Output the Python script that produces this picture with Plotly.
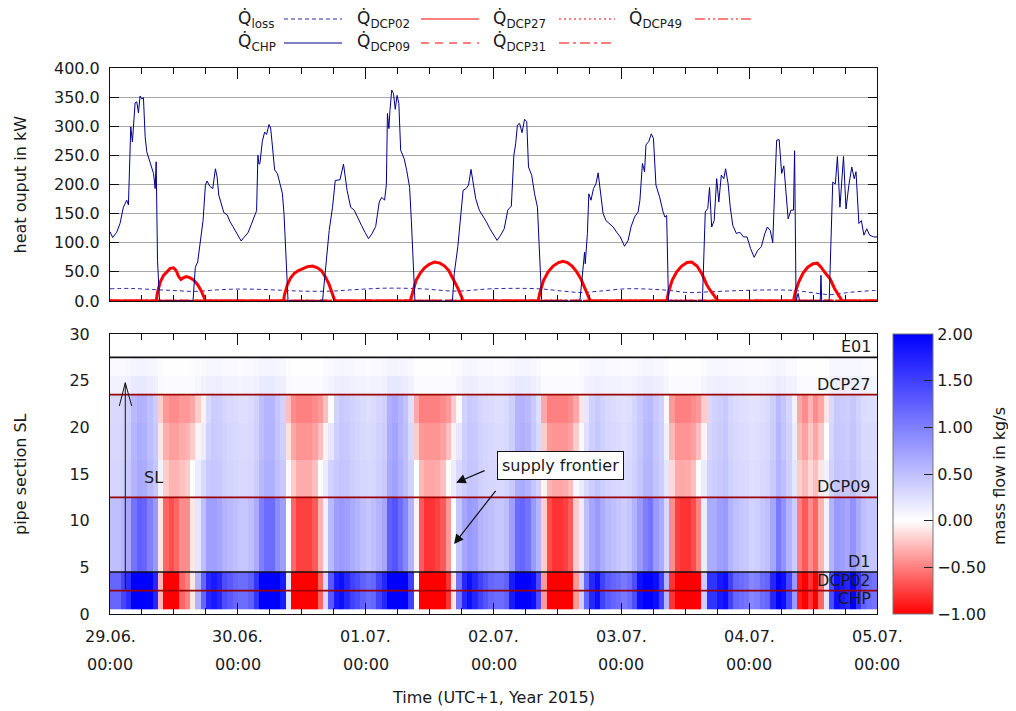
import numpy as np
import plotly.graph_objects as go

FONT = "DejaVu Sans"
TXT = "#1a1a1a"

# ---------------- top panel data (time in hours since 29.06.2015 00:00) -------------
chp_time = [0, 0.5, 1.26, 1.88, 2.51, 3.14, 3.46, 3.90, 4.21, 4.71, 5.03, 5.34, 5.65, 5.97, 6.28, 6.60,
            6.91, 7.23, 7.67, 8.17, 8.48, 8.67, 8.92, 9.30, 15.58, 16.02, 16.46, 16.96, 17.47, 17.91,
            18.22, 18.72, 19.29, 19.79, 20.11, 20.42, 20.86, 21.36, 21.99, 22.49, 23.06, 23.88, 24.63,
            25.13, 25.89, 26.51, 27.14, 27.52, 27.77, 27.96, 28.15, 28.59, 29.03, 29.40, 29.85, 30.16,
            30.47, 30.91, 31.42, 31.92, 32.36, 32.67, 33.05, 33.43, 39.90, 40.53, 41.15, 41.78, 42.29,
            43.17, 43.84, 44.51, 45.18, 45.85, 46.53, 47.20, 47.87, 48.54, 49.21, 49.88, 50.55, 51.02,
            51.55, 51.89, 52.09, 52.36, 52.56, 52.89, 53.23, 53.56, 53.90, 54.23, 54.57, 55.24, 55.71,
            56.25, 56.58, 56.92, 57.25, 64.29, 64.63, 65.30, 65.77, 66.30, 66.84, 67.31, 67.78, 68.18,
            68.65, 69.32, 69.99, 70.66, 71.33, 72.00, 72.67, 73.34, 74.01, 74.68, 75.35, 75.82, 76.16,
            76.49, 76.89, 77.36, 77.83, 78.24, 78.57, 79.17, 79.71, 80.25, 80.72, 81.05, 88.22, 88.56,
            89.10, 89.23, 89.63, 89.90, 90.30, 90.77, 91.24, 91.64, 92.11, 92.58, 93.12, 93.79, 94.46,
            95.13, 95.80, 96.60, 97.27, 97.81, 98.48, 99.15, 99.49, 99.96, 100.36, 100.63, 101.16,
            101.63, 102.03, 102.50, 103.17, 103.84, 104.18, 104.51, 104.85, 111.22, 111.76, 112.23,
            112.56, 112.96, 113.43, 113.90, 114.30, 114.77, 115.24, 115.58, 116.05, 116.45, 116.92,
            117.59, 118.26, 118.93, 119.60, 120.27, 120.94, 121.61, 122.28, 122.95, 123.42, 123.96,
            124.43, 124.76, 125.16, 125.63, 126.10, 126.51, 126.98, 127.32, 127.85, 128.32, 128.53,
            128.80, 129.20, 129.47, 133.34, 133.48, 133.62, 135.02, 135.69, 136.18, 136.57, 137.04,
            137.71, 138.18, 138.72, 139.26, 139.73, 140.06, 140.60, 141.07, 141.54, 142.07, 142.61,
            143.4, 144]
chp_kw = [119, 109, 118, 133, 161, 173, 165, 299, 273, 340, 342, 323, 352, 347, 349, 282,
          256, 247, 236, 219, 193, 239, 70, 0, 0, 58, 67, 104, 138, 199,
          206, 197, 193, 227, 213, 182, 168, 152, 148, 137, 128, 114, 103,
          109, 117, 131, 146, 155, 250, 235, 236, 274, 290, 286, 303, 297,
          268, 225, 219, 199, 185, 150, 70, 0, 0, 58, 121, 161, 207,
          208, 235, 190, 161, 156, 142, 130, 118, 107, 116, 128, 170, 178,
          173, 200, 322, 296, 327, 362, 356, 329, 353, 339, 259, 244, 224,
          195, 138, 69, 0, 0, 47, 93, 144, 190, 193, 199, 226, 205,
          176, 156, 147, 136, 124, 113, 104, 113, 124, 156, 163, 250, 270,
          302, 305, 289, 312, 308, 230, 216, 184, 161, 69, 0, 0, 36,
          84, 64, 116, 184, 173, 193, 201, 220, 184, 150, 138, 133, 127,
          118, 110, 94, 104, 127, 144, 153, 173, 236, 222, 268, 274,
          287, 279, 199, 179, 153, 144, 147, 0, 0, 153, 159,
          195, 127, 138, 210, 170, 216, 210, 227, 201, 161, 130,
          116, 118, 110, 110, 90, 75, 87, 93, 116, 127, 121,
          100, 184, 276, 277, 219, 232, 184, 141, 156, 156, 258,
          0, 13, 0, 0, 44, 0, 0, 204, 201, 248, 161,
          248, 158, 199, 230, 210, 222, 133, 138, 113, 124, 113,
          110, 110]
assert len(chp_time) == len(chp_kw)

loss_time = [0, 4, 8.5, 12, 16, 20, 24, 28, 32, 36, 41.5, 46, 51.6, 58.3, 65, 71.7, 80.4, 85, 88.4,
             92, 97.1, 102, 105.2, 108.5, 113, 118.6, 124, 128.7, 132, 135.4, 139, 143.4, 144]
loss_kw = [21, 21.5, 19.5, 18, 16.5, 19, 20.5, 20, 18.5, 17, 17, 19.5, 22, 21, 17, 21, 21, 17, 14.5,
           17, 21, 20, 18, 14.5, 16, 18, 19, 18, 14, 11, 15, 18, 18]

dcp02_time = [0, 8.67, 8.92, 9.42, 10.05, 10.68, 11.31, 11.94, 12.44, 12.88, 13.32, 13.82, 14.33, 14.95,
              15.71, 16.46, 17.15, 17.72, 17.97, 32.55, 32.8, 33.3, 33.93, 34.56, 35.31, 36.13, 37.07,
              38.01, 38.96, 39.71, 40.53, 41.15, 41.78, 42.22, 56.38, 56.78, 57.45, 58.26, 59.06, 59.93,
              60.94, 61.94, 62.82, 63.62, 64.42, 65.30, 65.97, 66.30, 80.38, 80.72, 81.39, 82.26, 83.20,
              84.20, 85.07, 85.88, 86.75, 87.62, 88.42, 89.23, 89.90, 90.17, 104.51, 104.85, 105.52,
              106.39, 107.33, 108.34, 109.21, 110.21, 111.22, 112.03, 112.70, 113.37, 113.90, 114.17,
              128.32, 128.65, 129.32, 130.12, 131.0, 132.0, 132.8, 133.5, 134.3, 135.2, 136.0, 136.8,
              137.46, 144]
dcp02_kw = [0, 0, 15, 32, 44, 51, 56, 57, 52, 42, 37, 40, 42, 40,
            36, 28, 17, 5, 0, 0, 12, 28, 40, 47, 52, 55, 59,
            60, 57, 52, 40, 28, 12, 0, 0, 15, 35, 48, 57, 63,
            67, 65, 60, 52, 38, 22, 8, 0, 0, 15, 35, 50, 60,
            66, 68, 66, 60, 50, 38, 20, 5, 0, 0, 15, 35,
            50, 60, 66, 67, 60, 45, 28, 18, 10, 3, 0,
            0, 15, 33, 48, 58, 64, 65, 58, 48, 38, 22, 10,
            0, 0]
assert len(dcp02_time) == len(dcp02_kw)

zero_time = [0, 144]
dcp09_kw = [0, 0]
dcp27_kw = [0, 0]
dcp31_kw = [0, 0]
dcp49_kw = [0, 0]

# ---------------- heat map data: mass flow (kg/s), hourly columns -----------------
flow_rows_01_04 = [
    1.2, 1.2, 1.45, 1.65, 2.5, 2.8, 2.8, 2.2, 1.7, -0.3, -1.2, -1.2, -1.0, -0.6, -0.5, -0.1, 0.6, 1.2, 1.7, 1.8, 1.7, 1.4, 1.3, 1.2,
    1.15, 1.15, 1.25, 1.6, 2.3, 2.6, 2.6, 2.0, 1.8, 0.2, -1.2, -1.3, -1.3, -1.3, -1.2, -0.6, 0.3, 1.3, 1.8, 1.9, 1.7, 1.5, 1.4, 1.25,
    1.15, 1.2, 1.5, 1.7, 2.8, 3.0, 2.6, 2.1, 1.5, 0.0, -1.2, -1.3, -1.3, -1.3, -1.2, -0.8, -0.1, 1.1, 1.7, 1.9, 1.7, 1.5, 1.35, 1.2,
    1.15, 1.15, 1.25, 1.8, 2.6, 2.7, 2.5, 1.9, 1.4, -0.4, -1.2, -1.3, -1.3, -1.3, -1.2, -0.4, 0.4, 1.2, 1.7, 1.9, 1.5, 1.3, 1.2, 1.15,
    1.05, 1.15, 1.4, 1.9, 2.3, 2.5, 1.9, 1.5, 0.6, -0.8, -1.3, -1.3, -1.3, -1.3, -1.0, 0.4, 1.6, 1.6, 1.8, 1.9, 1.5, 1.2, 1.15, 1.1,
    0.95, 1.0, 1.15, 1.2, 1.7, 2.4, 1.9, 1.45, 0.8, -0.9, -1.2, -0.8, -1.2, -0.6, 0.2, 1.4, 1.9, 1.8, 1.7, 2.0, 1.6, 1.25, 1.15, 1.1]
flow_rows_05_12 = [
    0.5, 0.5, 0.6, 0.7, 1.1, 1.25, 1.2, 1.0, 0.8, -0.1, -0.6, -0.7, -0.6, -0.45, -0.45, -0.1, 0.2, 0.5, 0.75, 0.75, 0.7, 0.6, 0.55, 0.5,
    0.45, 0.45, 0.5, 0.65, 1.0, 1.15, 1.15, 0.9, 0.75, 0.0, -0.6, -0.75, -0.75, -0.75, -0.65, -0.3, 0.1, 0.55, 0.75, 0.8, 0.75, 0.65, 0.6, 0.5,
    0.45, 0.5, 0.6, 0.7, 1.25, 1.35, 1.15, 0.95, 0.6, -0.05, -0.65, -0.8, -0.8, -0.75, -0.65, -0.4, 0.0, 0.45, 0.7, 0.8, 0.75, 0.6, 0.55, 0.5,
    0.45, 0.45, 0.5, 0.75, 1.15, 1.2, 1.1, 0.8, 0.6, -0.2, -0.7, -0.8, -0.8, -0.75, -0.65, -0.2, 0.15, 0.5, 0.7, 0.8, 0.65, 0.55, 0.5, 0.45,
    0.4, 0.45, 0.6, 0.8, 1.0, 1.1, 0.8, 0.65, 0.3, -0.45, -0.75, -0.8, -0.8, -0.7, -0.5, 0.15, 0.65, 0.65, 0.75, 0.8, 0.6, 0.5, 0.45, 0.42,
    0.35, 0.38, 0.45, 0.5, 0.7, 1.05, 0.85, 0.6, 0.4, -0.5, -0.65, -0.45, -0.6, -0.3, 0.1, 0.6, 0.8, 0.75, 0.7, 0.85, 0.65, 0.5, 0.45, 0.45]
flow_rows_13_16 = [
    0.33, 0.33, 0.36, 0.42, 0.6, 0.68, 0.66, 0.55, 0.45, 0.1, -0.2, -0.3, -0.3, -0.25, -0.2, 0.0, 0.15, 0.3, 0.42, 0.44, 0.42, 0.37, 0.34, 0.32,
    0.3, 0.3, 0.32, 0.4, 0.55, 0.63, 0.63, 0.5, 0.42, 0.05, -0.2, -0.32, -0.33, -0.33, -0.25, 0.0, 0.15, 0.35, 0.42, 0.46, 0.44, 0.39, 0.36, 0.32,
    0.3, 0.32, 0.37, 0.42, 0.68, 0.74, 0.63, 0.52, 0.35, 0.0, -0.28, -0.35, -0.35, -0.33, -0.25, 0.0, 0.15, 0.3, 0.4, 0.46, 0.44, 0.37, 0.34, 0.32,
    0.3, 0.3, 0.32, 0.42, 0.63, 0.65, 0.6, 0.46, 0.35, -0.05, -0.3, -0.35, -0.35, -0.33, -0.25, 0.05, 0.15, 0.3, 0.4, 0.46, 0.39, 0.34, 0.32, 0.3,
    0.28, 0.3, 0.36, 0.46, 0.57, 0.6, 0.46, 0.39, 0.2, -0.15, -0.33, -0.35, -0.33, -0.25, 0.0, 0.15, 0.36, 0.39, 0.42, 0.46, 0.36, 0.32, 0.3, 0.29,
    0.26, 0.27, 0.3, 0.32, 0.42, 0.6, 0.5, 0.37, 0.2, -0.2, -0.28, -0.15, -0.25, -0.1, 0.1, 0.35, 0.46, 0.44, 0.42, 0.48, 0.39, 0.32, 0.31, 0.3]
flow_rows_17_20 = [
    0.31, 0.31, 0.34, 0.40, 0.57, 0.65, 0.63, 0.52, 0.42, -0.1, -0.32, -0.38, -0.38, -0.33, -0.3, -0.2, -0.05, 0.15, 0.36, 0.42, 0.40, 0.35, 0.32, 0.30,
    0.28, 0.28, 0.30, 0.37, 0.52, 0.60, 0.60, 0.47, 0.38, -0.12, -0.35, -0.42, -0.42, -0.42, -0.37, -0.25, -0.05, 0.2, 0.38, 0.44, 0.42, 0.37, 0.34, 0.30,
    0.28, 0.30, 0.35, 0.40, 0.65, 0.71, 0.60, 0.50, 0.30, -0.2, -0.4, -0.42, -0.42, -0.42, -0.37, -0.25, -0.05, 0.2, 0.38, 0.44, 0.42, 0.35, 0.32, 0.30,
    0.28, 0.28, 0.30, 0.40, 0.60, 0.62, 0.57, 0.44, 0.30, -0.2, -0.4, -0.42, -0.42, -0.42, -0.37, -0.2, 0.05, 0.25, 0.38, 0.44, 0.37, 0.32, 0.30, 0.28,
    0.26, 0.28, 0.34, 0.44, 0.55, 0.57, 0.44, 0.37, 0.12, -0.28, -0.42, -0.42, -0.42, -0.37, -0.25, -0.05, 0.33, 0.37, 0.40, 0.44, 0.34, 0.30, 0.28, 0.27,
    0.24, 0.25, 0.28, 0.30, 0.40, 0.57, 0.47, 0.35, 0.15, -0.28, -0.37, -0.22, -0.35, -0.22, 0.0, 0.32, 0.44, 0.42, 0.40, 0.46, 0.37, 0.30, 0.29, 0.28]
flow_rows_21_23 = [
    0.3, 0.3, 0.33, 0.38, 0.55, 0.62, 0.6, 0.5, 0.4, -0.2, -0.4, -0.45, -0.45, -0.4, -0.4, -0.35, -0.2, -0.05, 0.3, 0.4, 0.38, 0.33, 0.3, 0.28,
    0.26, 0.26, 0.28, 0.35, 0.5, 0.58, 0.58, 0.45, 0.35, -0.25, -0.45, -0.5, -0.5, -0.5, -0.45, -0.4, -0.25, 0.0, 0.35, 0.42, 0.4, 0.35, 0.32, 0.28,
    0.26, 0.28, 0.33, 0.37, 0.62, 0.68, 0.58, 0.48, 0.25, -0.35, -0.5, -0.5, -0.5, -0.5, -0.45, -0.4, -0.2, 0.05, 0.35, 0.42, 0.4, 0.33, 0.3, 0.28,
    0.26, 0.26, 0.28, 0.38, 0.58, 0.6, 0.55, 0.42, 0.25, -0.35, -0.5, -0.5, -0.5, -0.5, -0.45, -0.35, -0.1, 0.2, 0.36, 0.42, 0.35, 0.3, 0.28, 0.26,
    0.24, 0.26, 0.32, 0.42, 0.52, 0.55, 0.42, 0.35, 0.05, -0.4, -0.5, -0.5, -0.5, -0.45, -0.4, -0.2, 0.3, 0.35, 0.38, 0.42, 0.32, 0.28, 0.26, 0.25,
    0.22, 0.23, 0.26, 0.28, 0.38, 0.55, 0.45, 0.33, 0.1, -0.35, -0.45, -0.3, -0.45, -0.35, -0.1, 0.3, 0.42, 0.4, 0.38, 0.44, 0.35, 0.28, 0.27, 0.26]
flow_rows_24_25 = [
    0.10, 0.10, 0.11, 0.12, 0.17, 0.18, 0.18, 0.15, 0.13, 0.05, 0.03, 0.03, 0.03, 0.03, 0.03, 0.04, 0.07, 0.10, 0.13, 0.13, 0.13, 0.11, 0.11, 0.10,
    0.09, 0.10, 0.10, 0.12, 0.16, 0.17, 0.17, 0.14, 0.13, 0.05, 0.03, 0.03, 0.03, 0.03, 0.03, 0.03, 0.06, 0.11, 0.13, 0.14, 0.13, 0.12, 0.11, 0.10,
    0.09, 0.10, 0.11, 0.12, 0.18, 0.19, 0.17, 0.15, 0.11, 0.03, 0.03, 0.03, 0.03, 0.03, 0.03, 0.03, 0.04, 0.09, 0.13, 0.14, 0.13, 0.11, 0.11, 0.10,
    0.09, 0.09, 0.10, 0.13, 0.17, 0.17, 0.16, 0.13, 0.11, 0.03, 0.03, 0.03, 0.03, 0.03, 0.03, 0.03, 0.05, 0.10, 0.12, 0.13, 0.12, 0.11, 0.10, 0.10,
    0.09, 0.09, 0.11, 0.13, 0.16, 0.16, 0.13, 0.12, 0.08, 0.03, 0.03, 0.03, 0.03, 0.03, 0.03, 0.09, 0.12, 0.12, 0.13, 0.13, 0.11, 0.10, 0.10, 0.09,
    0.08, 0.08, 0.09, 0.10, 0.12, 0.16, 0.14, 0.11, 0.10, 0.03, 0.03, 0.03, 0.03, 0.03, 0.03, 0.12, 0.13, 0.13, 0.12, 0.13, 0.12, 0.10, 0.10, 0.09]
flow_rows_26_27 = [
    0.05, 0.05, 0.05, 0.06, 0.08, 0.09, 0.09, 0.07, 0.06, 0.02, 0.01, 0.01, 0.01, 0.01, 0.01, 0.02, 0.03, 0.05, 0.06, 0.06, 0.06, 0.05, 0.05, 0.05,
    0.04, 0.05, 0.05, 0.06, 0.08, 0.08, 0.08, 0.07, 0.06, 0.02, 0.01, 0.01, 0.01, 0.01, 0.01, 0.01, 0.03, 0.05, 0.06, 0.07, 0.06, 0.06, 0.05, 0.05,
    0.04, 0.05, 0.05, 0.06, 0.09, 0.09, 0.08, 0.07, 0.05, 0.01, 0.01, 0.01, 0.01, 0.01, 0.01, 0.01, 0.02, 0.04, 0.06, 0.07, 0.06, 0.05, 0.05, 0.05,
    0.04, 0.04, 0.05, 0.06, 0.08, 0.08, 0.08, 0.06, 0.05, 0.01, 0.01, 0.01, 0.01, 0.01, 0.01, 0.01, 0.02, 0.05, 0.06, 0.06, 0.06, 0.05, 0.05, 0.05,
    0.04, 0.04, 0.05, 0.06, 0.08, 0.08, 0.06, 0.06, 0.04, 0.01, 0.01, 0.01, 0.01, 0.01, 0.01, 0.04, 0.06, 0.06, 0.06, 0.06, 0.05, 0.05, 0.05, 0.04,
    0.04, 0.04, 0.04, 0.05, 0.06, 0.08, 0.07, 0.05, 0.05, 0.01, 0.01, 0.01, 0.01, 0.01, 0.01, 0.06, 0.06, 0.06, 0.06, 0.06, 0.06, 0.05, 0.05, 0.04]

for arr in (flow_rows_01_04, flow_rows_05_12, flow_rows_13_16, flow_rows_17_20, flow_rows_21_23,
            flow_rows_24_25, flow_rows_26_27):
    assert len(arr) == 144, len(arr)

hour_centers = np.arange(144) + 0.5
sections = list(range(1, 28))
zone_of_section = ([flow_rows_01_04] * 4 + [flow_rows_05_12] * 8 + [flow_rows_13_16] * 4 +
                   [flow_rows_17_20] * 4 + [flow_rows_21_23] * 3 + [flow_rows_24_25] * 2 + [flow_rows_26_27] * 2)
z = np.array(zone_of_section)

node_lines = [(27.5, "E01", "#111111"), (23.5, "DCP27", "#9b0000"), (12.5, "DCP09", "#9b0000"),
              (4.5, "D1", "#111111"), (2.5, "DCP02", "#9b0000"), (0.5, "CHP", None)]

day_labels = ["29.06.", "30.06.", "01.07.", "02.07.", "03.07.", "04.07.", "05.07."]
day_ticks = [0, 24, 48, 72, 96, 120, 144]

# ---------------- geometry (page pixels; the page body adds an 8px offset) ----------
OFF = 8
L, R, T, B = 110, 877, 68, 614          # plot area in page pixels
W, H = 1016 - OFF, 711 - OFF            # figure size
def px(xp):
    return (xp - L) / (R - L)
def py(yp):
    return (B - yp) / (B - T)

fig = go.Figure()

DASH_LOSS = "4px,3px"
DASH_09 = "8px,6px"
DASH_27 = "2px,3px"
DASH_31 = "10px,4px,3px,4px"
DASH_49 = "10px,3px,2px,3px,2px,3px"

fig.add_trace(go.Scatter(x=zero_time, y=dcp09_kw, mode="lines", line=dict(color="#ff0000", width=2.5, dash=DASH_09), showlegend=False))
fig.add_trace(go.Scatter(x=zero_time, y=dcp27_kw, mode="lines", line=dict(color="#ff0000", width=2.5, dash=DASH_27), showlegend=False))
fig.add_trace(go.Scatter(x=zero_time, y=dcp31_kw, mode="lines", line=dict(color="#ff0000", width=2.5, dash=DASH_31), showlegend=False))
fig.add_trace(go.Scatter(x=zero_time, y=dcp49_kw, mode="lines", line=dict(color="#ff0000", width=2.5, dash=DASH_49), showlegend=False))
fig.add_trace(go.Scatter(x=loss_time, y=loss_kw, mode="lines", line=dict(color="#2a2ab0", width=1, dash=DASH_LOSS, shape="spline"), showlegend=False))
fig.add_trace(go.Scatter(x=dcp02_time, y=dcp02_kw, mode="lines", line=dict(color="#ff0000", width=3), showlegend=False))
fig.add_trace(go.Scatter(x=chp_time, y=chp_kw, mode="lines", line=dict(color="#00008b", width=1), showlegend=False))

fig.add_trace(go.Heatmap(
    x=hour_centers, y=sections, z=z, xaxis="x2", yaxis="y2",
    zmin=-1, zmax=2, zsmooth=False,
    colorscale=[[0, "#ff0000"], [1 / 3, "#ffffff"], [1, "#0000ff"]],
    colorbar=dict(
        x=px(893), xanchor="left", xpad=0,
        y=py(474), yanchor="middle", ypad=0,
        len=280, lenmode="pixels", thickness=40, thicknessmode="pixels",
        tickvals=[-1, -0.5, 0, 0.5, 1, 1.5, 2], tickformat=".2f",
        ticks="inside", ticklen=9, tickcolor="#222", tickwidth=1,
        tickfont=dict(family=FONT, size=16, color=TXT),
        outlinecolor="#777", outlinewidth=1,
    ),
))

axis_common = dict(showline=True, linecolor="#111", linewidth=1, mirror="ticks", zeroline=False)
fig.update_layout(
    width=W, height=H,
    margin=dict(l=L - OFF, r=W - (R - OFF), t=T - OFF, b=H - (B - OFF), pad=0),
    paper_bgcolor="white", plot_bgcolor="white",
    font=dict(family=FONT, size=16, color=TXT),
    showlegend=False,
    xaxis=dict(domain=[0, 1], anchor="y", range=[0, 144], tickvals=day_ticks, showticklabels=False,
               ticks="inside", ticklen=11, tickcolor="#111",
               minor=dict(dtick=6, tick0=0, ticks="inside", ticklen=6, tickcolor="#111"),
               showgrid=False, **axis_common),
    yaxis=dict(domain=[py(301), 1], anchor="x", range=[0, 400], dtick=50, tickformat=".1f",
               ticks="inside", ticklen=9, tickcolor="#111", ticklabelstandoff=6,
               showgrid=True, gridcolor="#a8a8a8", gridwidth=1,
               tickfont=dict(family=FONT, size=16, color=TXT), **axis_common),
    xaxis2=dict(domain=[0, 1], anchor="y2", range=[0, 144], tickvals=day_ticks, showticklabels=False,
                ticks="inside", ticklen=11, tickcolor="#111",
                minor=dict(dtick=6, tick0=0, ticks="inside", ticklen=6, tickcolor="#111"),
                showgrid=False, **axis_common),
    yaxis2=dict(domain=[0, py(334)], anchor="x2", range=[0, 30], dtick=5, ticks="",
                ticklabelstandoff=16, showgrid=False,
                tickfont=dict(family=FONT, size=16, color=TXT),
                showline=True, linecolor="#111", linewidth=1, mirror=True, zeroline=False),
)

shapes = []
annotations = []

for yv, label, col in node_lines:
    if col is not None:
        shapes.append(dict(type="line", xref="x2", yref="y2", x0=0, x1=144, y0=yv, y1=yv,
                           line=dict(color=col, width=1.6)))
    annotations.append(dict(xref="x2", yref="y2", x=144, y=yv, xanchor="right", yanchor="bottom",
                            xshift=-4, yshift=-1, text=label, showarrow=False,
                            font=dict(family=FONT, size=16, color=TXT)))

shapes.append(dict(type="path", xref="x2", yref="y2",
                   path="M 2.87,2.65 L 2.87,24.78 M 1.75,22.29 L 2.87,24.78 L 4.07,22.29",
                   line=dict(color="#111", width=1)))
annotations.append(dict(xref="x2", yref="y2", x=6.0, y=14.6, xanchor="left", yanchor="middle",
                        text="SL", showarrow=False, font=dict(family=FONT, size=16, color=TXT)))

annotations.append(dict(xref="x2", yref="y2", x=84.5, y=15.86, xanchor="center", yanchor="middle",
                        text="supply frontier", showarrow=False, bgcolor="white",
                        bordercolor="#111", borderwidth=1, borderpad=4,
                        font=dict(family=FONT, size=16, color=TXT)))
for (hx, hy, tx, ty) in [(64.98, 14.07, 70.6, 15.43), (64.6, 7.5, 72.62, 13.36)]:
    annotations.append(dict(xref="x2", yref="y2", x=hx, y=hy, axref="x2", ayref="y2", ax=tx, ay=ty,
                            text="", showarrow=True, arrowhead=2, arrowsize=1.6, arrowwidth=1.2,
                            arrowcolor="#111", standoff=0, startstandoff=0))

for d, lab in zip(day_ticks, day_labels):
    annotations.append(dict(xref="x2", yref="paper", x=d, y=0, yanchor="middle", yshift=-22,
                            text=lab, showarrow=False, font=dict(family=FONT, size=16, color=TXT)))
    annotations.append(dict(xref="x2", yref="paper", x=d, y=0, yanchor="middle", yshift=-50,
                            text="00:00", showarrow=False, font=dict(family=FONT, size=16, color=TXT)))

annotations.append(dict(xref="paper", yref="paper", x=0.5, y=0, yanchor="middle", yshift=-83,
                        text="Time (UTC+1, Year 2015)", showarrow=False, font=dict(family=FONT, size=16, color=TXT)))
annotations.append(dict(xref="paper", yref="paper", x=px(20), y=py(184.5), textangle=-90,
                        xanchor="center", yanchor="middle", text="heat ouput in kW", showarrow=False,
                        font=dict(family=FONT, size=16, color=TXT)))
annotations.append(dict(xref="paper", yref="paper", x=px(20), y=py(474), textangle=-90,
                        xanchor="center", yanchor="middle", text="pipe section SL", showarrow=False,
                        font=dict(family=FONT, size=16, color=TXT)))
annotations.append(dict(xref="paper", yref="paper", x=px(999), y=py(476), textangle=-90,
                        xanchor="center", yanchor="middle", text="mass flow in kg/s", showarrow=False,
                        font=dict(family=FONT, size=16, color=TXT)))

legend_items = [
    ("loss", 236, 284, 342, 19, "#2a2ab0", DASH_LOSS),
    ("DCP02", 355, 421, 479, 19, "#ff0000", "solid"),
    ("DCP27", 491, 559, 615, 19, "#ff0000", DASH_27),
    ("DCP49", 627, 695, 752, 19, "#ff0000", DASH_49),
    ("CHP", 236, 284, 342, 43, "#00008b", "solid"),
    ("DCP09", 355, 421, 479, 43, "#ff0000", DASH_09),
    ("DCP31", 491, 559, 615, 43, "#ff0000", DASH_31),
]
for sub, tx, lx0, lx1, ly, col, dash in legend_items:
    annotations.append(dict(xref="paper", yref="paper", x=px(tx), y=py(ly), xanchor="left", yanchor="middle",
                            text="Q\u0307<sub>" + sub + "</sub>", showarrow=False,
                            font=dict(family=FONT, size=17, color=TXT)))
    shapes.append(dict(type="line", xref="paper", yref="paper", x0=px(lx0), x1=px(lx1), y0=py(ly), y1=py(ly),
                       line=dict(color=col, width=1.2, dash=dash)))

fig.update_layout(shapes=shapes, annotations=annotations)
fig.write_html("out.html")
